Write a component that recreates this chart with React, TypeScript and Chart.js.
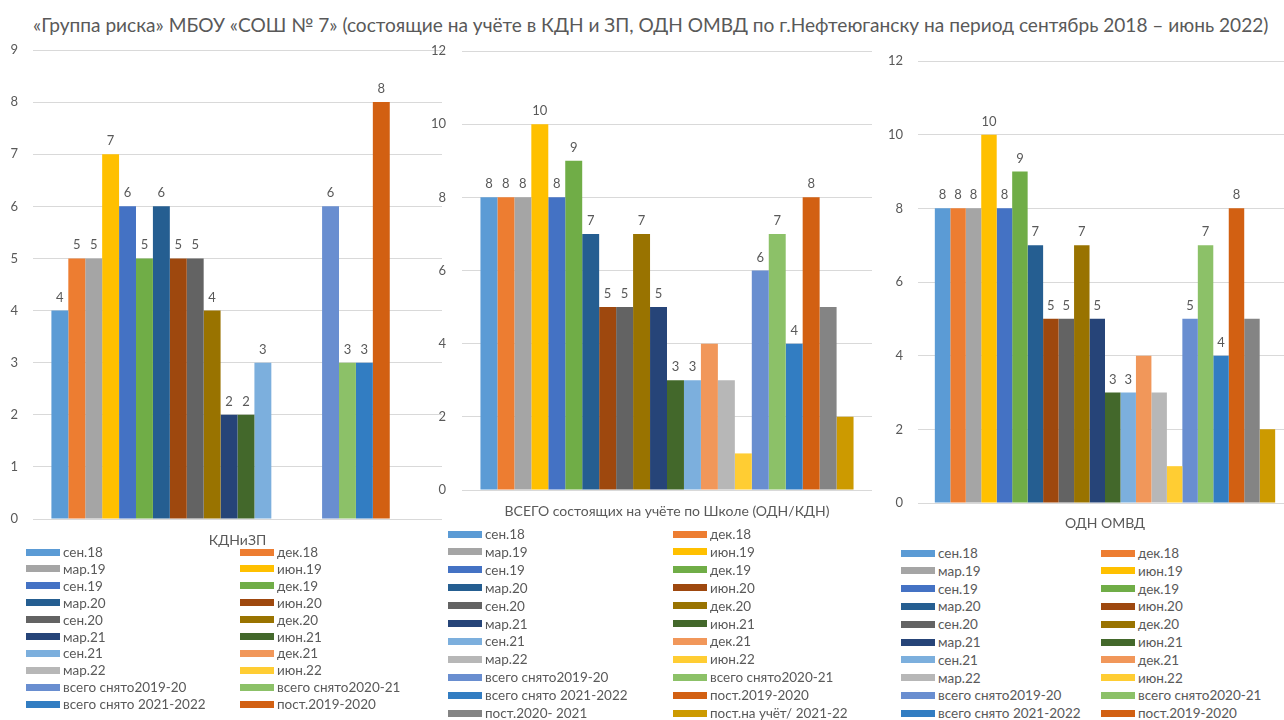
import React, { useEffect, useRef } from "react";
import { Chart, registerables } from "chart.js";

Chart.register(...registerables);

const FONT = "Lato";
const TEXT_COLOR = "#595959";
const GRID_COLOR = "#D9D9D9";

const mainTitle =
  "«Группа риска» МБОУ «СОШ № 7» (состоящие на учёте в КДН и ЗП, ОДН ОМВД по г.Нефтеюганску на период сентябрь 2018 – июнь 2022)";

const seriesNames = [
  "сен.18",
  "дек.18",
  "мар.19",
  "июн.19",
  "сен.19",
  "дек.19",
  "мар.20",
  "июн.20",
  "сен.20",
  "дек.20",
  "мар.21",
  "июн.21",
  "сен.21",
  "дек.21",
  "мар.22",
  "июн.22",
  "всего снято2019-20",
  "всего снято2020-21",
  "всего снято 2021-2022",
  "пост.2019-2020",
  "пост.2020- 2021",
  "пост.на учёт/ 2021-22",
];

const seriesColors = [
  "#5B9BD5",
  "#ED7D31",
  "#A5A5A5",
  "#FFC000",
  "#4472C4",
  "#70AD47",
  "#255E91",
  "#9E480E",
  "#636363",
  "#997300",
  "#264478",
  "#43682B",
  "#7CAFDD",
  "#F1975A",
  "#B7B7B7",
  "#FFCD33",
  "#698ED0",
  "#8CC168",
  "#327DC2",
  "#D26012",
  "#848484",
  "#CC9A00",
];

const kdnCategory = "КДНиЗП";
const kdnValues = [4, 5, 5, 7, 6, 5, 6, 5, 5, 4, 2, 2, 3, null, null, null, 6, 3, 3, 8, null, null];
const kdnShowLabel = [1, 1, 1, 1, 1, 1, 1, 1, 1, 1, 1, 1, 1, 1, 1, 1, 1, 1, 1, 1, 1, 1];
const kdnTicks = { max: 9, step: 1 };

const totalCategory = "ВСЕГО состоящих на учёте по Школе (ОДН/КДН)";
const totalValues = [8, 8, 8, 10, 8, 9, 7, 5, 5, 7, 5, 3, 3, 4, 3, 1, 6, 7, 4, 8, 5, 2];
const totalShowLabel = [1, 1, 1, 1, 1, 1, 1, 1, 1, 1, 1, 1, 1, 0, 0, 0, 1, 1, 1, 1, 0, 0];
const totalTicks = { max: 12, step: 2 };

const odnCategory = "ОДН ОМВД";
const odnValues = [8, 8, 8, 10, 8, 9, 7, 5, 5, 7, 5, 3, 3, 4, 3, 1, 5, 7, 4, 8, 5, 2];
const odnShowLabel = [1, 1, 1, 1, 1, 1, 1, 1, 1, 1, 1, 1, 1, 0, 0, 0, 1, 1, 1, 1, 0, 0];
const odnTicks = { max: 12, step: 2 };

const barLabelPlugin = {
  id: "barLabels",
  afterDatasetsDraw(chart: any, _args: any, opts: any) {
    const { ctx } = chart;
    const flags: number[] = opts.flags || [];
    ctx.save();
    ctx.font = `13px ${FONT}`;
    ctx.fillStyle = TEXT_COLOR;
    ctx.textAlign = "center";
    ctx.textBaseline = "alphabetic";
    chart.data.datasets.forEach((ds: any, i: number) => {
      if (!flags[i]) return;
      const meta = chart.getDatasetMeta(i);
      meta.data.forEach((el: any, j: number) => {
        const v = ds.data[j];
        if (v === null || v === undefined) return;
        ctx.fillText(String(v), el.x, el.y - 9);
      });
    });
    ctx.restore();
  },
};

type Geo = {
  left: number;
  width: number;
  height: number;
  axisWidth: number;
  padTop: number;
  xAxisHeight: number;
  tickPad: number;
};

type LegendGeo = {
  top: number;
  rowH: number;
  col1: number;
  col2: number;
  maxRows: number;
};

function BarPanel(props: {
  category: string;
  values: (number | null)[];
  flags: number[];
  ticks: { max: number; step: number };
  geo: Geo;
  legend: LegendGeo;
}) {
  const ref = useRef<HTMLCanvasElement | null>(null);
  const { category, values, flags, ticks, geo, legend } = props;

  useEffect(() => {
    if (!ref.current) return;
    const chart = new Chart(ref.current, {
      type: "bar",
      data: {
        labels: [category],
        datasets: seriesNames.map((name, i) => ({
          label: name,
          data: [values[i]],
          backgroundColor: seriesColors[i],
          borderWidth: 0,
          categoryPercentage: 0.91,
          barPercentage: 1,
        })),
      },
      options: {
        responsive: false,
        maintainAspectRatio: false,
        animation: false,
        devicePixelRatio: 1,
        layout: { padding: { top: geo.padTop, left: 0, right: 0, bottom: 0 } },
        plugins: {
          legend: { display: false },
          tooltip: { enabled: false },
          title: { display: false },
          barLabels: { flags },
        } as any,
        scales: {
          x: {
            grid: { display: false },
            border: { display: true, color: GRID_COLOR },
            ticks: { display: false },
            title: {
              display: true,
              text: category,
              color: TEXT_COLOR,
              font: { family: FONT, size: 14 },
              padding: 0,
            },
            afterFit: (s: any) => {
              s.height = geo.xAxisHeight;
            },
          },
          y: {
            min: 0,
            max: ticks.max,
            ticks: {
              stepSize: ticks.step,
              color: TEXT_COLOR,
              font: { family: FONT, size: 13 },
              padding: geo.tickPad,
            },
            grid: { color: GRID_COLOR, drawTicks: false },
            border: { display: false },
            afterFit: (s: any) => {
              s.width = geo.axisWidth;
            },
          },
        },
      },
      plugins: [barLabelPlugin as any],
    });
    return () => chart.destroy();
  }, []);

  return (
    <>
      <canvas
        ref={ref}
        width={geo.width}
        height={geo.height}
        style={{
          position: "absolute",
          left: geo.left,
          top: 0,
          width: geo.width,
          height: geo.height,
        }}
      />
      {seriesNames.map((name, i) => {
        const row = Math.floor(i / 2);
        const col = i % 2;
        if (row >= legend.maxRows) return null;
        return (
          <div
            key={name}
            style={{
              position: "absolute",
              left: col === 0 ? legend.col1 : legend.col2,
              top: legend.top + row * legend.rowH - 9,
              height: 18,
              display: "flex",
              alignItems: "center",
              whiteSpace: "nowrap",
              fontFamily: FONT,
              fontSize: 13.5,
              color: TEXT_COLOR,
            }}
          >
            <span
              style={{
                display: "inline-block",
                width: 34,
                height: 7,
                background: seriesColors[i],
                marginRight: 3,
              }}
            />
            <span>{name}</span>
          </div>
        );
      })}
    </>
  );
}

export default function App() {
  return (
    <div
      style={{
        position: "fixed",
        left: 0,
        top: 0,
        width: 1284,
        height: 720,
        overflow: "hidden",
        background: "#fff",
      }}
    >
      <div
        style={{
          position: "absolute",
          left: 33,
          top: 13,
          whiteSpace: "nowrap",
          fontFamily: FONT,
          fontSize: 19.1,
          lineHeight: "24px",
          color: TEXT_COLOR,
        }}
      >
        {mainTitle}
      </div>
      <BarPanel
        category={kdnCategory}
        values={kdnValues}
        flags={kdnShowLabel}
        ticks={kdnTicks}
        geo={{ left: 0, width: 442, height: 549, axisWidth: 33, padTop: 50, xAxisHeight: 30, tickPad: 15 }}
        legend={{ top: 552, rowH: 16.9, col1: 26, col2: 240, maxRows: 10 }}
      />
      <BarPanel
        category={totalCategory}
        values={totalValues}
        flags={totalShowLabel}
        ticks={totalTicks}
        geo={{ left: 420, width: 452, height: 520, axisWidth: 42, padTop: 51, xAxisHeight: 30, tickPad: 16 }}
        legend={{ top: 534, rowH: 17.9, col1: 448, col2: 673, maxRows: 11 }}
      />
      <BarPanel
        category={odnCategory}
        values={odnValues}
        flags={odnShowLabel}
        ticks={odnTicks}
        geo={{ left: 870, width: 422, height: 532, axisWidth: 48, padTop: 61, xAxisHeight: 29, tickPad: 15 }}
        legend={{ top: 553, rowH: 17.8, col1: 901, col2: 1101, maxRows: 10 }}
      />
    </div>
  );
}
